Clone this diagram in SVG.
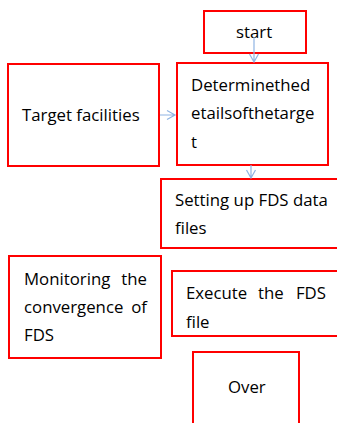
<svg xmlns="http://www.w3.org/2000/svg" width="337" height="423" viewBox="0 0 337 423">
<style>
.box{fill:#fff;stroke:#ff0000;stroke-width:2}
.t{font-family:"Open Sans","Liberation Sans",sans-serif;font-size:16.8px;fill:#000}
.e{text-anchor:end}
.c{fill:none;stroke:#8fb4e3;stroke-width:1.2}
</style>
<rect width="337" height="423" fill="#fff"/>
<g id="start"><rect class="box" x="204" y="11" width="102" height="42"/><text class="t" x="236" y="38">start</text></g>
<g id="target"><rect class="box" x="8" y="64" width="151" height="102"/><text class="t" x="22" y="121">Target facilities</text></g>
<g id="determine"><rect class="box" x="177" y="63" width="151" height="102"/><text class="t" x="191" y="91">Determinethed</text><text class="t" x="191" y="119">etailsofthetarge</text><text class="t" x="191" y="148">t</text></g>
<g id="setting"><rect class="box" x="161" y="179" width="180" height="69"/><text class="t" x="175" y="206">Setting up FDS data</text><text class="t" x="175" y="234">files</text></g>
<g id="monitor"><rect class="box" x="9" y="256" width="152" height="102"/><text class="t" x="24" y="285">Monitoring</text><text class="t e" x="147" y="285">the</text><text class="t" x="24" y="313">convergence</text><text class="t e" x="147" y="313">of</text><text class="t" x="24" y="341">FDS</text></g>
<g id="execute"><rect class="box" x="172" y="271" width="170" height="65"/><text class="t" x="186" y="299">Execute</text><text class="t" x="258" y="299">the</text><text class="t e" x="326" y="299">FDS</text><text class="t" x="186" y="328">file</text></g>
<g id="over"><rect class="box" x="193" y="352" width="106" height="80"/><text class="t" x="228" y="393">Over</text></g>
<g id="connectors">
<path class="c" d="M254 37V62M249.5 54L254 62L258.5 54"/>
<path class="c" d="M160 115H175M167 110.5L175 115L167 119.5"/>
<path class="c" d="M251 165V178M246.5 170L251 178L255.5 170"/>
</g>
</svg>
